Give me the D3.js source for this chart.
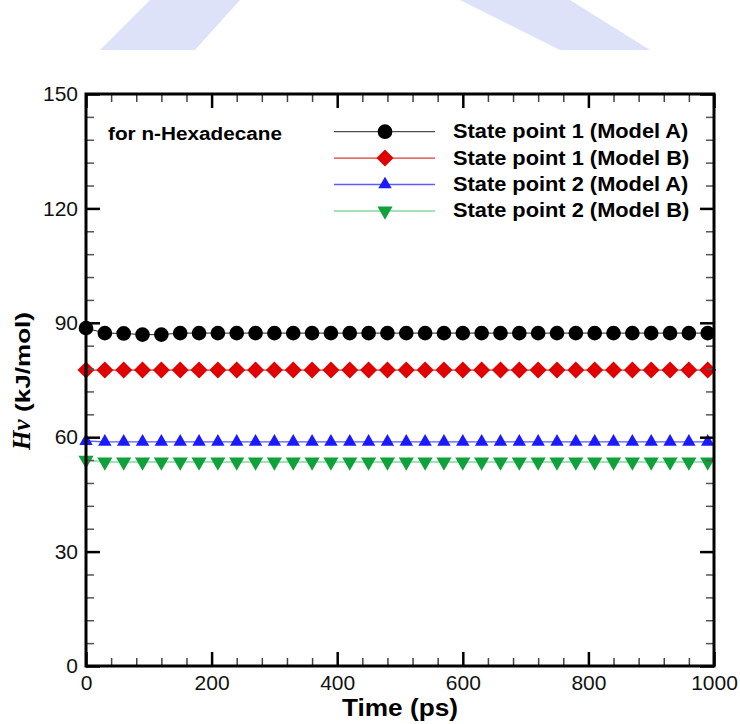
<!doctype html>
<html lang="en">
<head>
<meta charset="utf-8">
<title>Hv vs Time</title>
<script src="https://d3js.org/d3.v7.min.js"></script>
<style>
  body { margin: 0; background: #fff; }
  svg { display: block; font-family: "Liberation Sans", Arial, sans-serif; }
</style>
</head>
<body>
<div id="chart"></div>
<script>
// sample times (ps)
const times = [0, 30, 60, 90, 120, 150, 180, 210, 240, 270, 300, 330, 360, 390, 420, 450, 480,
  510, 540, 570, 600, 630, 660, 690, 720, 750, 780, 810, 840, 870, 900, 930, 960, 990];

// Hv (kJ/mol)
const sp1ModelA = [88.6, 87.3, 87.2, 86.9, 86.9, 87.3, 87.3, 87.3, 87.3, 87.3, 87.3, 87.3, 87.3, 87.3, 87.3, 87.3, 87.3,
  87.3, 87.3, 87.3, 87.3, 87.3, 87.3, 87.3, 87.3, 87.3, 87.3, 87.3, 87.3, 87.3, 87.3, 87.3, 87.3, 87.3];
const sp1ModelB = [77.6, 77.6, 77.6, 77.6, 77.6, 77.6, 77.6, 77.6, 77.6, 77.6, 77.6, 77.6, 77.6, 77.6, 77.6, 77.6, 77.6,
  77.6, 77.6, 77.6, 77.6, 77.6, 77.6, 77.6, 77.6, 77.6, 77.6, 77.6, 77.6, 77.6, 77.6, 77.6, 77.6, 77.6];
const sp2ModelA = [59.0, 58.8, 58.8, 58.8, 58.8, 58.8, 58.8, 58.8, 58.8, 58.8, 58.8, 58.8, 58.8, 58.8, 58.8, 58.8, 58.8,
  58.8, 58.8, 58.8, 58.8, 58.8, 58.8, 58.8, 58.8, 58.8, 58.8, 58.8, 58.8, 58.8, 58.8, 58.8, 58.8, 58.8];
const sp2ModelB = [54.0, 53.5, 53.5, 53.5, 53.5, 53.5, 53.5, 53.5, 53.5, 53.5, 53.5, 53.5, 53.5, 53.5, 53.5, 53.5, 53.5,
  53.5, 53.5, 53.5, 53.5, 53.5, 53.5, 53.5, 53.5, 53.5, 53.5, 53.5, 53.5, 53.5, 53.5, 53.5, 53.5, 53.5];

const seriesNames = ["State point 1 (Model A)", "State point 1 (Model B)", "State point 2 (Model A)", "State point 2 (Model B)"];

const xTicks = [0, 200, 400, 600, 800, 1000];
const yTicks = [0, 30, 60, 90, 120, 150];

const width = 740, height = 724;
const margin = {top: 94, right: 26, bottom: 58, left: 86};

const x = d3.scaleLinear([0, 1000], [margin.left, width - margin.right]);
const y = d3.scaleLinear([0, 150], [height - margin.bottom, margin.top]);

const svg = d3.select("#chart").append("svg")
    .attr("width", width)
    .attr("height", height)
    .attr("viewBox", [0, 0, width, height]);

// faint watermark remnants along the top edge
svg.append("g")
    .attr("fill", "#dde2f8")
    .selectAll("path")
    .data([
      [[150, 0], [240, 0], [195, 50], [100, 50]],
      [[460, 0], [570, 0], [650, 50], [560, 50]]
    ])
    .join("path")
      .attr("d", d => "M" + d.join("L") + "Z");

const series = [
  {name: seriesNames[0], values: sp1ModelA, color: "#000", line: "#222", lineW: 1, symbol: d3.symbolCircle, size: 170, rotate: 0},
  {name: seriesNames[1], values: sp1ModelB, color: "#e00000", line: "#e00000", lineW: 1, symbol: d3.symbolSquare, size: 145, rotate: 45},
  {name: seriesNames[2], values: sp2ModelA, color: "#1a1aff", line: "#5a5aff", lineW: 1.3, symbol: d3.symbolTriangle, size: 78, rotate: 0},
  {name: seriesNames[3], values: sp2ModelB, color: "#10a23a", line: "#a6e0b6", lineW: 2, symbol: d3.symbolTriangle, size: 100, rotate: 180}
];

const line = d3.line().x((d, i) => x(times[i])).y(d => y(d));

const plot = svg.append("g");
series.forEach(s => {
  plot.append("path")
      .attr("fill", "none")
      .attr("stroke", s.line)
      .attr("stroke-width", s.lineW)
      .attr("d", line(s.values));
  plot.append("g")
    .selectAll("path")
    .data(s.values)
    .join("path")
      .attr("fill", s.color)
      .attr("transform", (d, i) => `translate(${x(times[i])},${y(d)}) rotate(${s.rotate})`)
      .attr("d", d3.symbol(s.symbol, s.size));
});

// axes: ticks point inward on all four sides
const xMinor = d3.range(0, 1001, 40).filter(v => v % 200 !== 0);
const yMinor = d3.range(0, 151, 6).filter(v => v % 30 !== 0);

function styleTicks(g, w, col) {
  g.select(".domain").remove();
  g.selectAll(".tick line").attr("stroke", col).attr("stroke-width", w);
}

svg.append("g")
    .attr("transform", `translate(0,${y(0)})`)
    .call(d3.axisBottom(x).tickValues(xTicks).tickSizeInner(-14).tickSizeOuter(0).tickPadding(9).tickFormat(d3.format("d")))
    .call(g => styleTicks(g, 2.5, "#000"))
    .call(g => g.selectAll(".tick text").attr("font-size", 21).attr("fill", "#111")
      .attr("font-family", "'Liberation Sans', Arial, sans-serif"));
svg.append("g")
    .attr("transform", `translate(0,${y(0)})`)
    .call(d3.axisBottom(x).tickValues(xMinor).tickSize(-8).tickFormat(""))
    .call(g => styleTicks(g, 1.5, "#444"));
svg.append("g")
    .attr("transform", `translate(0,${y(150)})`)
    .call(d3.axisTop(x).tickValues(xTicks).tickSize(-14).tickFormat(""))
    .call(g => styleTicks(g, 2.5, "#000"));
svg.append("g")
    .attr("transform", `translate(0,${y(150)})`)
    .call(d3.axisTop(x).tickValues(xMinor).tickSize(-8).tickFormat(""))
    .call(g => styleTicks(g, 1.5, "#444"));

svg.append("g")
    .attr("transform", `translate(${x(0)},0)`)
    .call(d3.axisLeft(y).tickValues(yTicks).tickSizeInner(-14).tickSizeOuter(0).tickPadding(8).tickFormat(d3.format("d")))
    .call(g => styleTicks(g, 2.5, "#000"))
    .call(g => g.selectAll(".tick text").attr("font-size", 21).attr("fill", "#111")
      .attr("font-family", "'Liberation Sans', Arial, sans-serif"));
svg.append("g")
    .attr("transform", `translate(${x(0)},0)`)
    .call(d3.axisLeft(y).tickValues(yMinor).tickSize(-8).tickFormat(""))
    .call(g => styleTicks(g, 1.5, "#555"));
svg.append("g")
    .attr("transform", `translate(${x(1000)},0)`)
    .call(d3.axisRight(y).tickValues(yTicks).tickSize(-14).tickFormat(""))
    .call(g => styleTicks(g, 2.5, "#000"));
svg.append("g")
    .attr("transform", `translate(${x(1000)},0)`)
    .call(d3.axisRight(y).tickValues(yMinor).tickSize(-8).tickFormat(""))
    .call(g => styleTicks(g, 1.5, "#555"));

// frame
svg.append("rect")
    .attr("x", x(0)).attr("y", y(150))
    .attr("width", x(1000) - x(0)).attr("height", y(0) - y(150))
    .attr("fill", "none").attr("stroke", "#000").attr("stroke-width", 3);

// axis titles
svg.append("text")
    .attr("x", (x(0) + x(1000)) / 2)
    .attr("y", 716)
    .attr("text-anchor", "middle")
    .attr("font-size", 23)
    .attr("font-weight", "bold")
    .attr("textLength", 116)
    .attr("lengthAdjust", "spacingAndGlyphs")
    .text("Time (ps)");

const yLab = svg.append("g").attr("transform", "translate(30,450) rotate(-90)");
yLab.append("text")
    .attr("x", 0)
    .attr("font-family", "'Liberation Serif', 'Times New Roman', serif")
    .attr("font-style", "italic")
    .attr("font-weight", "bold")
    .attr("font-size", 25)
    .text("Hv");
yLab.append("text")
    .attr("x", 38)
    .attr("font-weight", "bold")
    .attr("font-size", 21)
    .attr("textLength", 100)
    .attr("lengthAdjust", "spacingAndGlyphs")
    .text("(kJ/mol)");

svg.append("text")
    .attr("x", 108)
    .attr("y", 140)
    .attr("font-size", 18)
    .attr("font-weight", "bold")
    .attr("textLength", 174)
    .attr("lengthAdjust", "spacingAndGlyphs")
    .text("for n-Hexadecane");

// legend
const legend = svg.append("g");
series.forEach((s, i) => {
  const ly = 131.7 + i * 26.4;
  legend.append("line")
      .attr("x1", 334).attr("x2", 435).attr("y1", ly).attr("y2", ly)
      .attr("stroke", s.line).attr("stroke-width", s.lineW);
  legend.append("path")
      .attr("fill", s.color)
      .attr("transform", `translate(385,${ly}) rotate(${s.rotate})`)
      .attr("d", d3.symbol(s.symbol, s.size));
  const t = legend.append("text")
      .attr("x", 453)
      .attr("y", ly + 6.5)
      .attr("font-size", 20)
      .attr("font-weight", "bold")
      .text(s.name);
  t.attr("textLength", t.node().getComputedTextLength() * 1.09)
   .attr("lengthAdjust", "spacingAndGlyphs");
});
</script>
</body>
</html>
